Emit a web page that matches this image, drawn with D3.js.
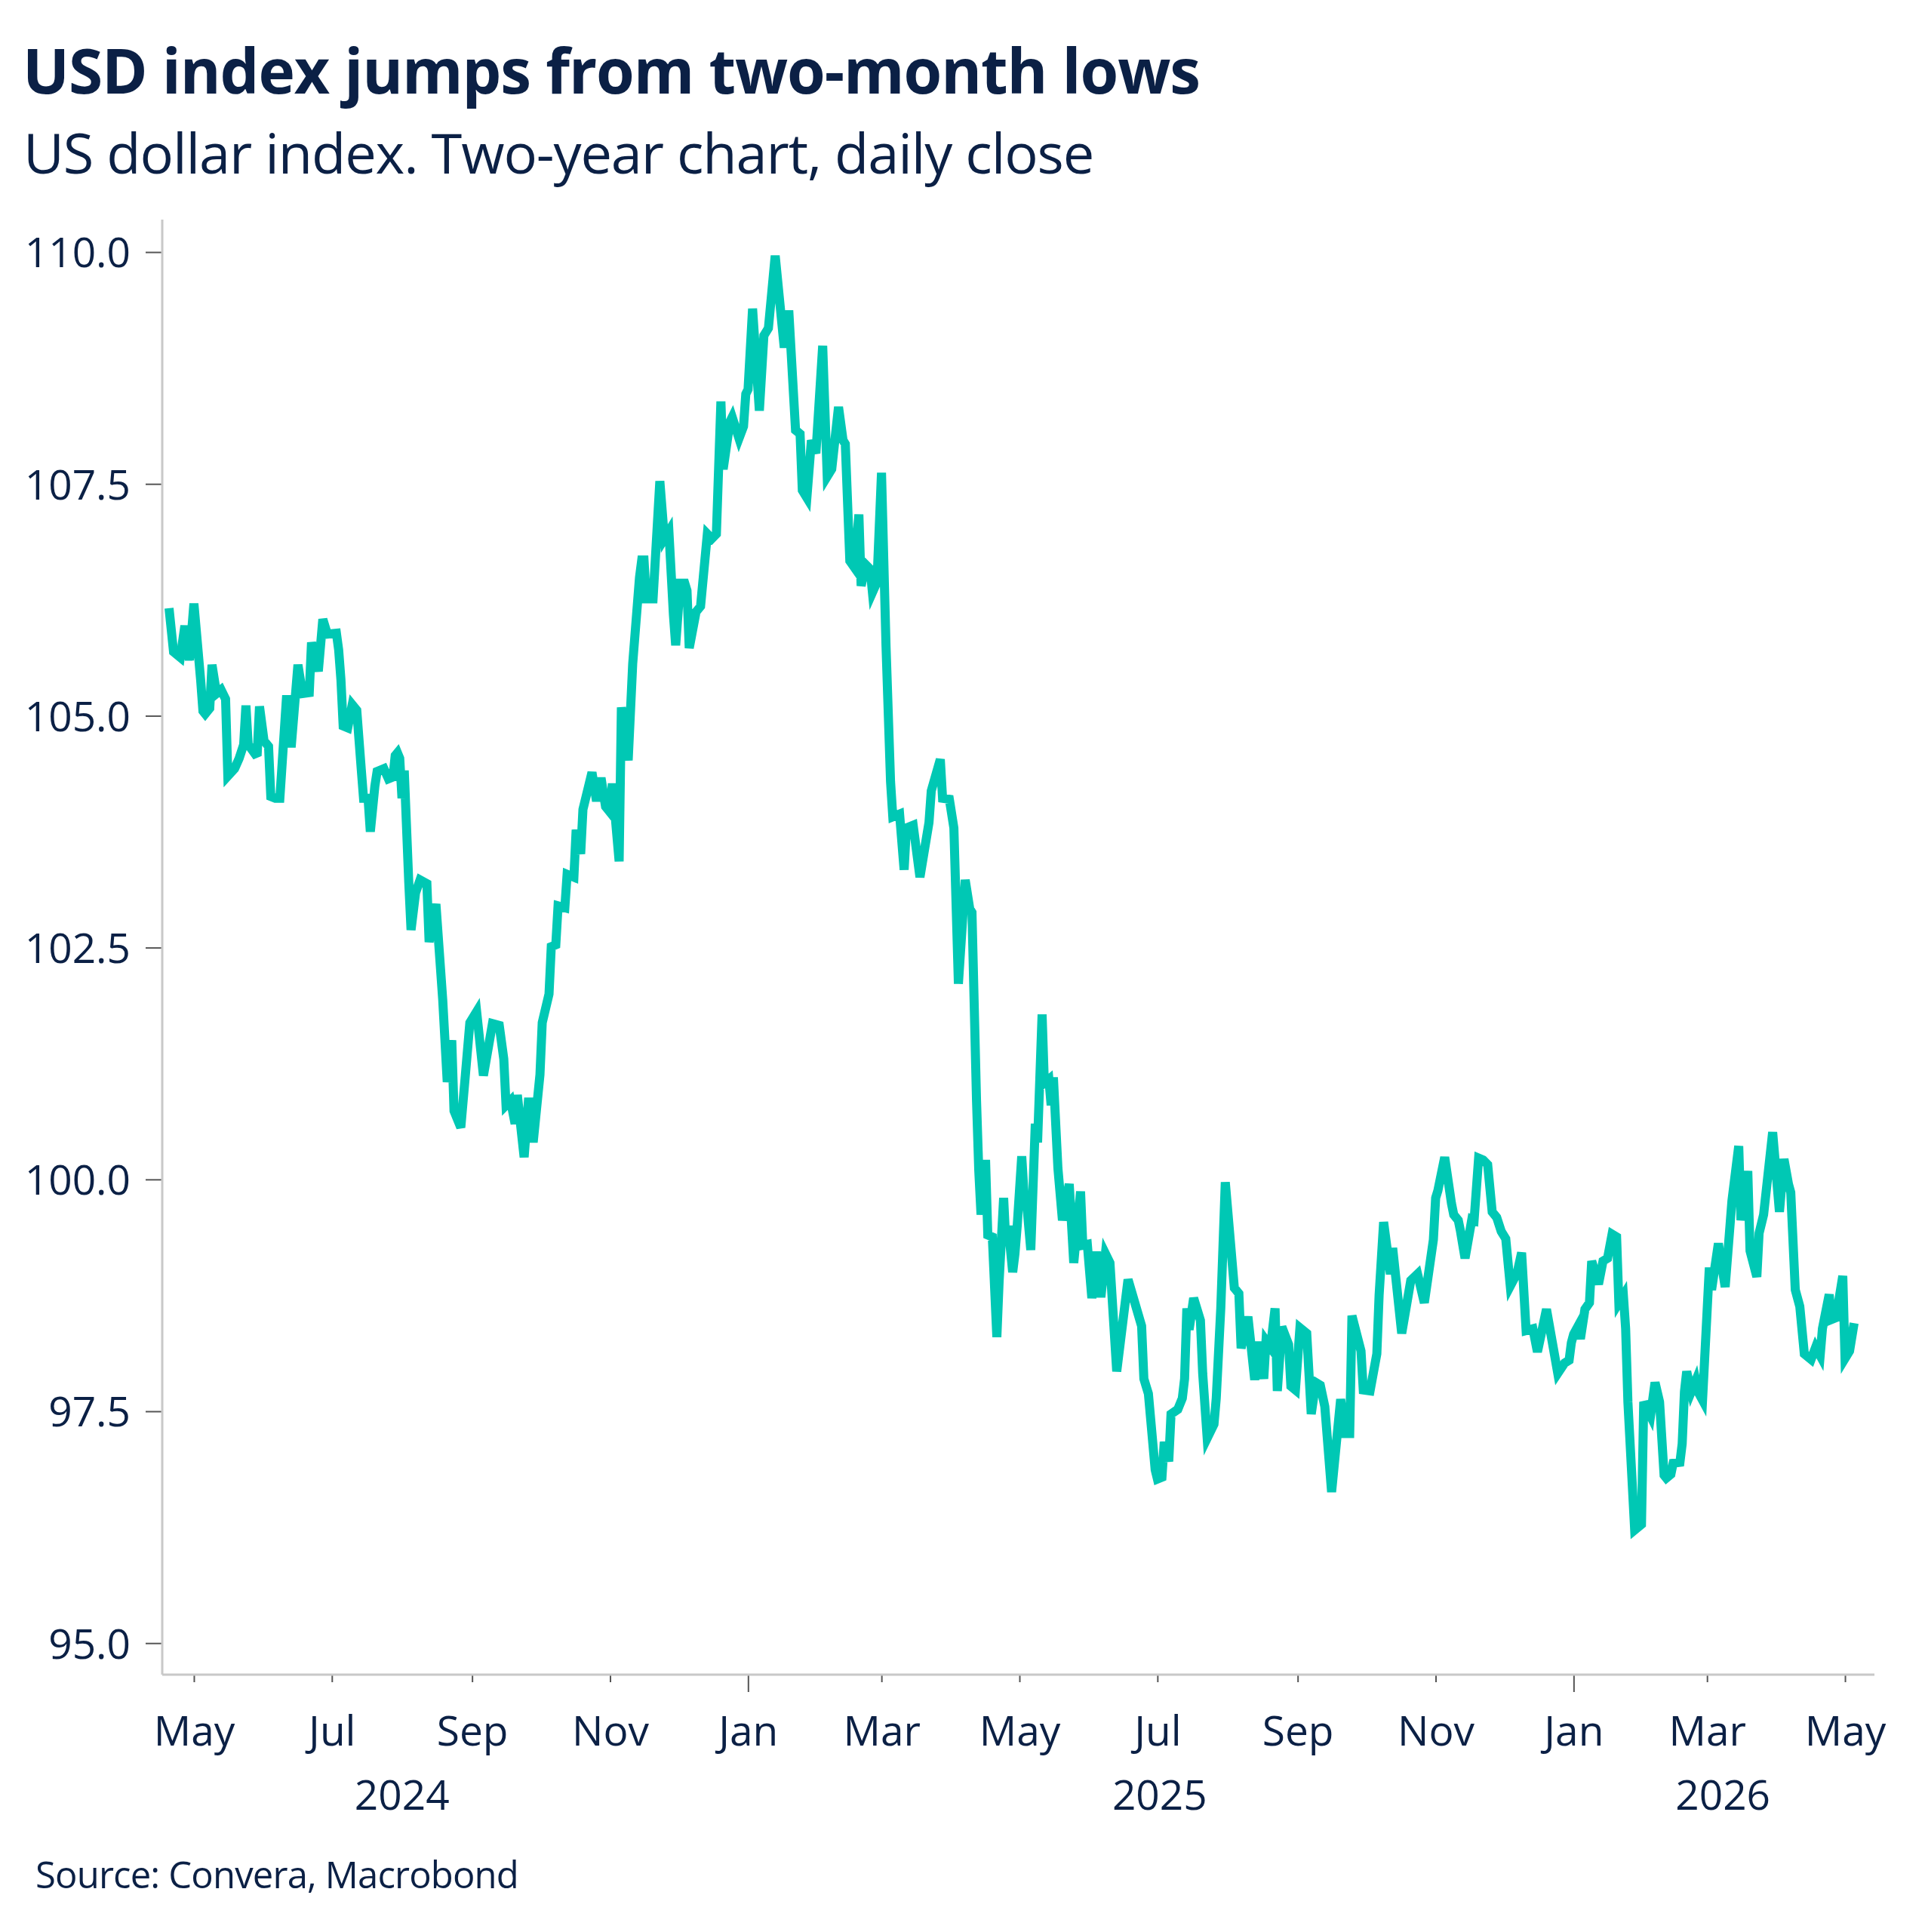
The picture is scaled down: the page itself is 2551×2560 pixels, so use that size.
<!DOCTYPE html>
<html>
<head>
<meta charset="utf-8">
<script src="https://cdn.jsdelivr.net/npm/d3@7"></script>
<style>
  html, body { margin: 0; padding: 0; background: #ffffff; }
  svg text { font-family: "Open Sans", "Noto Sans", sans-serif; fill: #0b2045; }
</style>
</head>
<body>
<svg id="chart"></svg>
<script>
/* Data: US dollar index, daily close */
const dates = [
  "2024-04-20","2024-04-22","2024-04-25","2024-04-27","2024-04-29",
  "2024-05-01","2024-05-04","2024-05-05","2024-05-06","2024-05-08","2024-05-09","2024-05-11","2024-05-13","2024-05-15","2024-05-16","2024-05-19","2024-05-21","2024-05-23","2024-05-24","2024-05-25","2024-05-28","2024-05-29","2024-05-30",
  "2024-06-01","2024-06-03","2024-06-04","2024-06-06","2024-06-08","2024-06-11","2024-06-13","2024-06-16","2024-06-18","2024-06-21","2024-06-22","2024-06-25","2024-06-27","2024-06-29",
  "2024-07-03","2024-07-04","2024-07-05","2024-07-06","2024-07-08","2024-07-10","2024-07-12","2024-07-14","2024-07-15","2024-07-17","2024-07-18","2024-07-20","2024-07-21","2024-07-24","2024-07-26","2024-07-28","2024-07-29","2024-07-30","2024-07-31",
  "2024-08-01","2024-08-02","2024-08-04","2024-08-05","2024-08-07","2024-08-09","2024-08-12","2024-08-13","2024-08-16","2024-08-19","2024-08-21","2024-08-23","2024-08-24","2024-08-27","2024-08-29","2024-08-31",
  "2024-09-03","2024-09-06","2024-09-10","2024-09-13","2024-09-15","2024-09-16","2024-09-18","2024-09-20","2024-09-21","2024-09-24","2024-09-26","2024-09-28",
  "2024-10-01","2024-10-02","2024-10-05","2024-10-06","2024-10-08","2024-10-09","2024-10-12","2024-10-13","2024-10-16","2024-10-17","2024-10-19","2024-10-20","2024-10-24","2024-10-26","2024-10-28","2024-10-30",
  "2024-11-01","2024-11-02","2024-11-05","2024-11-06","2024-11-09","2024-11-11","2024-11-14","2024-11-15","2024-11-16","2024-11-17","2024-11-20","2024-11-23","2024-11-25","2024-11-27","2024-11-29","2024-11-30",
  "2024-12-02","2024-12-04","2024-12-05","2024-12-06","2024-12-09","2024-12-11","2024-12-14","2024-12-16","2024-12-18","2024-12-20","2024-12-21","2024-12-24","2024-12-25","2024-12-28","2024-12-30","2024-12-31",
  "2025-01-01","2025-01-03","2025-01-06","2025-01-08","2025-01-10","2025-01-13","2025-01-17","2025-01-19","2025-01-22","2025-01-24","2025-01-25","2025-01-27","2025-01-29","2025-01-31",
  "2025-02-03","2025-02-05","2025-02-07","2025-02-10","2025-02-12","2025-02-13","2025-02-15","2025-02-17","2025-02-19","2025-02-20","2025-02-22","2025-02-24","2025-02-25","2025-02-27",
  "2025-03-01","2025-03-03","2025-03-05","2025-03-06","2025-03-09","2025-03-11","2025-03-12","2025-03-15","2025-03-18","2025-03-22","2025-03-23","2025-03-27","2025-03-28","2025-03-31",
  "2025-04-02","2025-04-04","2025-04-07","2025-04-09","2025-04-10","2025-04-12","2025-04-13","2025-04-14","2025-04-16","2025-04-17","2025-04-19","2025-04-21","2025-04-22","2025-04-24","2025-04-25","2025-04-26","2025-04-28","2025-04-29","2025-04-30",
  "2025-05-02","2025-05-03","2025-05-04","2025-05-06","2025-05-08","2025-05-09","2025-05-11","2025-05-12","2025-05-14","2025-05-15","2025-05-16","2025-05-18","2025-05-20","2025-05-23","2025-05-25","2025-05-28","2025-05-29","2025-05-31",
  "2025-06-02","2025-06-04","2025-06-06","2025-06-08","2025-06-10","2025-06-13","2025-06-18","2025-06-24","2025-06-25","2025-06-27","2025-06-30",
  "2025-07-01","2025-07-03","2025-07-04","2025-07-06","2025-07-07","2025-07-10","2025-07-12","2025-07-13","2025-07-14","2025-07-15","2025-07-17","2025-07-20","2025-07-21","2025-07-23","2025-07-26","2025-07-27","2025-07-29","2025-07-31",
  "2025-08-04","2025-08-06","2025-08-07","2025-08-10","2025-08-13","2025-08-15","2025-08-17","2025-08-18","2025-08-20","2025-08-22","2025-08-23","2025-08-25","2025-08-28","2025-08-29","2025-08-31",
  "2025-09-02","2025-09-05","2025-09-07","2025-09-09","2025-09-11","2025-09-13","2025-09-16","2025-09-20","2025-09-22","2025-09-24","2025-09-25","2025-09-29","2025-09-30",
  "2025-10-03","2025-10-06","2025-10-07","2025-10-09","2025-10-12","2025-10-13","2025-10-17","2025-10-21","2025-10-24","2025-10-27","2025-10-31",
  "2025-11-01","2025-11-02","2025-11-05","2025-11-08","2025-11-09","2025-11-11","2025-11-12","2025-11-14","2025-11-17","2025-11-18","2025-11-20","2025-11-22","2025-11-24","2025-11-26","2025-11-28","2025-11-30",
  "2025-12-02","2025-12-04","2025-12-07","2025-12-09","2025-12-11","2025-12-14","2025-12-16","2025-12-20","2025-12-25","2025-12-28","2025-12-30","2025-12-31",
  "2026-01-01","2026-01-03","2026-01-04","2026-01-06","2026-01-08","2026-01-09","2026-01-12","2026-01-14","2026-01-16","2026-01-18","2026-01-20","2026-01-21","2026-01-23","2026-01-24","2026-01-25","2026-01-28","2026-01-31",
  "2026-02-01","2026-02-04","2026-02-06","2026-02-08","2026-02-10","2026-02-11","2026-02-13","2026-02-14","2026-02-17","2026-02-18","2026-02-19","2026-02-20","2026-02-22","2026-02-24","2026-02-25","2026-02-27",
  "2026-03-02","2026-03-03","2026-03-06","2026-03-09","2026-03-12","2026-03-15","2026-03-16","2026-03-19","2026-03-20","2026-03-23","2026-03-24","2026-03-26","2026-03-30",
  "2026-04-02","2026-04-04","2026-04-06","2026-04-07","2026-04-09","2026-04-11","2026-04-13","2026-04-16","2026-04-18","2026-04-20","2026-04-21","2026-04-24","2026-04-25","2026-04-27","2026-04-30",
  "2026-05-01","2026-05-03","2026-05-05"
];
const values = [
  106.16,105.69,105.63,105.97,105.60,
  106.21,105.38,105.05,105.02,105.08,105.55,105.24,105.28,105.18,104.35,104.43,104.54,104.69,105.11,104.69,104.59,104.60,105.10,
  104.73,104.67,104.13,104.11,104.11,105.22,104.66,105.55,105.24,105.25,105.79,105.48,106.04,105.88,
  105.89,105.71,105.39,104.89,104.87,105.12,105.06,104.42,104.11,104.11,103.75,104.24,104.40,104.43,104.32,104.34,104.57,104.60,104.54,
  104.11,104.41,103.20,102.69,103.09,103.23,103.19,102.56,102.97,101.94,101.05,101.50,100.74,100.56,101.12,101.69,
  101.81,101.12,101.68,101.66,101.30,100.80,100.85,100.60,100.91,100.24,100.88,100.40,
  101.13,101.69,102.00,102.51,102.53,102.95,102.93,103.29,103.26,103.77,103.51,103.99,104.39,104.08,104.33,104.02,
  103.96,104.27,103.43,105.09,104.52,105.56,106.49,106.68,106.68,106.26,106.26,107.53,106.91,106.99,106.09,105.76,
  106.43,106.43,106.35,105.73,106.12,106.18,106.96,106.91,106.96,108.39,107.66,108.17,108.22,107.99,108.12,108.47,
  108.52,109.39,108.29,109.10,109.18,109.96,108.97,109.37,108.08,108.04,107.43,107.35,107.97,107.83,
  108.99,107.58,107.66,108.33,107.97,107.93,106.67,106.60,107.17,106.40,106.63,106.58,106.33,106.44,
  107.62,105.75,104.29,103.91,103.94,103.34,103.79,103.82,103.26,103.85,104.19,104.53,104.11,104.10,
  103.79,102.11,103.23,102.92,102.88,100.86,100.10,99.62,100.21,99.40,99.38,98.30,98.90,99.80,99.30,99.50,99.00,99.20,99.50,
  100.25,99.85,99.80,99.24,100.60,100.40,101.78,101.04,101.08,100.80,101.10,100.12,99.56,99.95,99.10,99.87,99.29,99.30,
  98.72,99.22,98.73,99.20,99.10,97.93,98.92,98.42,97.85,97.69,96.87,
  96.77,96.79,97.17,96.96,97.47,97.52,97.64,97.85,98.61,98.38,98.72,98.48,97.91,97.21,97.36,97.64,98.61,99.97,
  98.83,98.77,98.18,98.52,97.84,98.25,97.85,98.26,98.19,98.61,97.72,98.41,98.22,97.77,97.73,
  98.40,98.34,97.47,97.81,97.78,97.55,96.63,97.63,97.26,97.26,98.53,98.15,97.73,
  97.72,98.12,98.75,99.54,98.98,99.26,98.34,98.91,98.98,98.67,99.35,
  99.80,99.88,100.24,99.74,99.62,99.56,99.44,99.15,99.57,99.56,100.23,100.21,100.16,99.65,99.59,99.44,
  99.36,98.85,98.99,99.21,98.37,98.39,98.14,98.60,97.91,98.02,98.05,98.24,
  98.33,98.42,98.28,98.60,98.67,99.12,98.87,99.12,99.15,99.41,99.38,98.67,98.75,98.39,97.60,96.22,96.28,
  97.60,97.45,97.81,97.60,96.81,96.78,96.82,96.94,96.95,97.15,97.71,97.93,97.71,97.83,97.71,97.62,
  99.05,98.81,99.31,98.84,99.77,100.36,99.56,100.09,99.23,98.95,99.42,99.62,100.51,
  99.65,100.22,99.95,99.86,98.81,98.63,98.12,98.06,98.19,98.10,98.39,98.76,98.49,98.51,98.96,
  98.07,98.15,98.45
];
const yTicks = [95, 97.5, 100, 102.5, 105, 107.5, 110];
const yearLabels = ["2024", "2025", "2026"];
const yearLabelDates = ["2024-08-01", "2025-07-02", "2026-03-08"];
const xDomain = ["2024-04-17", "2026-05-14"];
const yDomain = [94.66, 110.35];

const titleText = "USD index jumps from two-month lows";
const subtitleText = "US dollar index. Two-year chart, daily close";
const sourceText = "Source: Convera, Macrobond";

/* Chart dimensions */
const W = 2551, H = 2560;
const margin = { top: 291, right: 67, bottom: 341, left: 215 };
const width = W - margin.left - margin.right;
const height = H - margin.top - margin.bottom;

const parse = d3.timeParse("%Y-%m-%d");
const data = dates.map((d, i) => ({ date: parse(d), value: values[i] }));

const root = d3.select("#chart")
    .attr("width", W)
    .attr("height", H)
    .attr("viewBox", `0 0 ${W} ${H}`);

root.append("rect").attr("width", W).attr("height", H).attr("fill", "#ffffff");

const svg = root.append("g")
    .attr("transform", `translate(${margin.left},${margin.top})`);

/* Scales */
const xScale = d3.scaleTime()
    .domain(xDomain.map(parse))
    .range([0, width]);

const yScale = d3.scaleLinear()
    .domain(yDomain)
    .range([height, 0]);

/* Y axis ticks and labels */
const yAxis = d3.axisLeft(yScale)
    .tickValues(yTicks)
    .tickFormat(d3.format(".1f"))
    .tickSize(22)
    .tickPadding(20);

const gy = svg.append("g").call(yAxis).attr("font-family", null);
gy.select(".domain").remove();
gy.selectAll(".tick line").attr("stroke", "#555555").attr("stroke-width", 2);
gy.selectAll(".tick text")
    .attr("font-size", 55)
    .attr("dy", "0.36em");

/* X axis ticks and labels */
const xAxis = d3.axisBottom(xScale)
    .ticks(d3.timeMonth.every(2))
    .tickFormat(d3.timeFormat("%b"))
    .tickSize(10);

const gx = svg.append("g")
    .attr("transform", `translate(0,${height})`)
    .call(xAxis)
    .attr("font-family", null);
gx.select(".domain").remove();
gx.selectAll(".tick line")
    .attr("stroke", "#555555")
    .attr("stroke-width", 2)
    .attr("y2", d => d.getMonth() === 0 ? 23 : 10);
gx.selectAll(".tick text")
    .attr("font-size", 55)
    .attr("y", 94)
    .attr("dy", 0);

/* Year labels */
svg.selectAll(".year")
    .data(yearLabels)
    .join("text")
      .attr("class", "year")
      .attr("x", (d, i) => xScale(parse(yearLabelDates[i])))
      .attr("y", height + 179)
      .attr("text-anchor", "middle")
      .attr("font-size", 55)
      .text(d => d);

/* Axis lines */
svg.append("line")
    .attr("x1", 0).attr("x2", 0)
    .attr("y1", 0).attr("y2", height)
    .attr("stroke", "#c8c8c8").attr("stroke-width", 3);
svg.append("line")
    .attr("x1", 0).attr("x2", width)
    .attr("y1", height).attr("y2", height)
    .attr("stroke", "#c8c8c8").attr("stroke-width", 3);

/* The line */
const lineGenerator = d3.line()
    .x(d => xScale(d.date))
    .y(d => yScale(d.value));

svg.append("path")
    .datum(data)
    .attr("fill", "none")
    .attr("stroke", "#00c8b4")
    .attr("stroke-width", 12)
    .attr("stroke-linejoin", "miter")
    .attr("d", lineGenerator);

/* Titles and source */
function fitWidth(sel, target) {
    const len = sel.node().getComputedTextLength();
    const n = sel.text().length;
    sel.attr("letter-spacing", ((target - len) / n).toFixed(2));
}

const title = root.append("text")
    .attr("x", 30).attr("y", 124)
    .attr("font-size", 82)
    .attr("font-weight", 700)
    .text(titleText);
fitWidth(title, 1560);

const subtitle = root.append("text")
    .attr("x", 31).attr("y", 230)
    .attr("font-size", 74)
    .text(subtitleText);
fitWidth(subtitle, 1418);

const source = root.append("text")
    .attr("x", 47).attr("y", 2502)
    .attr("font-size", 49)
    .text(sourceText);
fitWidth(source, 640);
</script>
</body>
</html>
